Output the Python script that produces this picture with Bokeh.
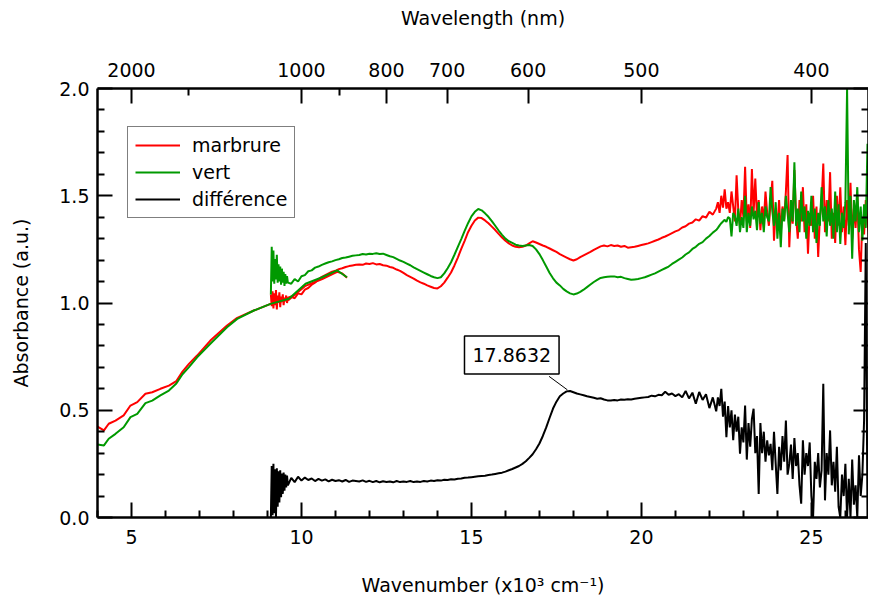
from bokeh.plotting import figure
from bokeh.models import (Range1d, LinearAxis, FixedTicker, CustomJSTickFormatter,
                          PrintfTickFormatter, Legend, LegendItem, Label)
from bokeh.embed import file_html
from bokeh.resources import INLINE

FONT = "DejaVu Sans"
RED = "#FF0000"
GREEN = "#009900"

# ---------------- data ----------------
# NIR segment (smooth), wavenumber in 10^3 cm-1
nir_x = [4.00, 4.19, 4.33, 4.53, 4.77, 4.97, 5.17, 5.41, 5.61, 5.85,
         6.10, 6.32, 6.50, 6.69, 6.93, 7.32, 7.81, 8.11, 8.60, 9.09,
         9.63, 10.12, 10.61, 11.05, 11.20, 11.34]
nir_red = [0.424, 0.406, 0.437, 0.452, 0.476, 0.522, 0.538, 0.577, 0.584, 0.600,
           0.615, 0.636, 0.680, 0.716, 0.755, 0.825, 0.895, 0.931, 0.965, 0.996,
           1.015, 1.080, 1.112, 1.145, 1.138, 1.118]
nir_green = [0.340, 0.336, 0.367, 0.390, 0.421, 0.468, 0.483, 0.533, 0.545, 0.569,
             0.592, 0.625, 0.668, 0.701, 0.747, 0.810, 0.887, 0.926, 0.965, 0.996,
             1.020, 1.090, 1.120, 1.152, 1.135, 1.120]

# visible segment
vis_x = [
    9.100, 9.125, 9.150, 9.175, 9.200, 9.225, 9.250, 9.275, 9.300, 9.325,
    9.350, 9.375, 9.400, 9.425, 9.450, 9.475, 9.500, 9.525, 9.550, 9.575,
    9.600,
    9.7, 9.8, 9.9, 10.0, 10.1, 10.2, 10.3, 10.4, 10.5, 10.6,
    10.7, 10.8, 10.9, 11.0, 11.1, 11.2, 11.3, 11.4, 11.5, 11.6,
    11.7, 11.8, 11.9, 12.0, 12.1, 12.2, 12.3, 12.4, 12.5, 12.6,
    12.7, 12.8, 12.9, 13.0, 13.1, 13.2, 13.3, 13.4, 13.5, 13.6,
    13.7, 13.8, 13.9, 14.0, 14.1, 14.2, 14.3, 14.4, 14.5, 14.6,
    14.7, 14.8, 14.9, 15.0, 15.1, 15.2, 15.3, 15.4, 15.5, 15.6,
    15.7, 15.8, 15.9, 16.0, 16.1, 16.2, 16.3, 16.4, 16.5, 16.6,
    16.7, 16.8, 16.9, 17.0, 17.1, 17.2, 17.3, 17.4, 17.5, 17.6,
    17.7, 17.8, 17.9, 18.0, 18.1, 18.2, 18.3, 18.4, 18.5, 18.6,
    18.7, 18.8, 18.9, 19.0, 19.1, 19.2, 19.3, 19.4, 19.5, 19.6,
    19.7, 19.8, 19.9, 20.0, 20.1, 20.2, 20.3, 20.4, 20.5, 20.6,
    20.7, 20.8, 20.9, 21.0, 21.1, 21.2, 21.3, 21.4, 21.5, 21.6,
    21.7, 21.8, 21.9, 22.0, 22.1, 22.2,
    22.25, 22.30, 22.35, 22.40, 22.45, 22.50, 22.55, 22.60, 22.65, 22.70,
    22.75, 22.80, 22.85, 22.90, 22.95, 23.00, 23.05, 23.10, 23.15, 23.20,
    23.25, 23.30, 23.35, 23.40, 23.45, 23.50, 23.55, 23.60, 23.65, 23.70,
    23.75, 23.80, 23.85, 23.90, 23.95, 24.00, 24.05, 24.10, 24.15, 24.20,
    24.25, 24.30, 24.35, 24.40, 24.45, 24.50, 24.55, 24.60, 24.65, 24.70,
    24.75, 24.80, 24.85, 24.90, 24.95, 25.00, 25.05, 25.10, 25.15, 25.20,
    25.25, 25.30, 25.35, 25.40, 25.45, 25.50, 25.55, 25.60, 25.65, 25.70,
    25.75, 25.80, 25.85, 25.90, 25.95, 26.00, 26.05, 26.10, 26.15, 26.20,
    26.25, 26.30, 26.35, 26.40, 26.45, 26.50, 26.55, 26.60, 26.65, 26.70,
    26.75, 26.80, 26.85, 26.88]

vis_red = [
    1.040, 0.985, 1.055, 0.975, 1.045, 0.990, 1.060, 0.970, 1.035, 1.000,
    1.050, 0.980, 1.030, 1.005, 1.040, 0.990, 1.025, 1.010, 1.035, 1.000,
    1.025,
    1.030, 1.022, 1.045, 1.040, 1.062, 1.070, 1.085, 1.095, 1.110, 1.122,
    1.130, 1.138, 1.146, 1.150, 1.158, 1.162, 1.168, 1.172, 1.175, 1.178,
    1.180, 1.178, 1.184, 1.182, 1.186, 1.180, 1.182, 1.176, 1.174, 1.168,
    1.164, 1.156, 1.150, 1.140, 1.130, 1.122, 1.114, 1.104, 1.096, 1.090,
    1.082, 1.076, 1.070, 1.068, 1.078, 1.095, 1.118, 1.142, 1.175, 1.212,
    1.252, 1.290, 1.330, 1.360, 1.385, 1.398, 1.396, 1.385, 1.372, 1.356,
    1.340, 1.322, 1.305, 1.290, 1.278, 1.268, 1.262, 1.260, 1.262, 1.268,
    1.278, 1.288, 1.282, 1.275, 1.268, 1.262, 1.254, 1.246, 1.238, 1.228,
    1.220, 1.212, 1.204, 1.198, 1.204, 1.214, 1.222, 1.230, 1.238, 1.248,
    1.256, 1.264, 1.268, 1.264, 1.270, 1.266, 1.268, 1.262, 1.266, 1.258,
    1.260, 1.262, 1.266, 1.270, 1.274, 1.278, 1.284, 1.290, 1.296, 1.304,
    1.310, 1.318, 1.326, 1.334, 1.340, 1.352, 1.358, 1.370, 1.375, 1.390,
    1.384, 1.405, 1.398, 1.425, 1.412, 1.440,
    1.470, 1.420, 1.500, 1.445, 1.530, 1.440, 1.470, 1.420, 1.520, 1.450,
    1.380, 1.595, 1.430, 1.360, 1.480, 1.400, 1.635, 1.380, 1.460, 1.350,
    1.625, 1.420, 1.580, 1.400, 1.480, 1.340, 1.450, 1.380, 1.520, 1.420,
    1.360, 1.470, 1.570, 1.290, 1.440, 1.350, 1.480, 1.320, 1.450, 1.390,
    1.520, 1.690, 1.260, 1.450, 1.370, 1.620, 1.400, 1.300, 1.480, 1.380,
    1.540, 1.330, 1.460, 1.230, 1.420, 1.360, 1.500, 1.300, 1.450, 1.215,
    1.400, 1.470, 1.650, 1.330, 1.480, 1.380, 1.610, 1.300, 1.420, 1.280,
    1.500, 1.360, 1.540, 1.330, 1.450, 1.270, 1.480, 1.360, 1.560, 1.300,
    1.440, 1.350, 1.500, 1.250, 1.145, 1.400, 1.320, 1.480, 1.380, 1.300,
    1.450, 1.550, 1.300, 1.270]

vis_green = [
    1.040, 1.262, 1.100, 1.245, 1.090, 1.205, 1.110, 1.225, 1.095, 1.180,
    1.100, 1.170, 1.085, 1.160, 1.095, 1.145, 1.080, 1.135, 1.090, 1.125,
    1.095,
    1.090, 1.112, 1.100, 1.125, 1.130, 1.148, 1.152, 1.165, 1.170, 1.178,
    1.184, 1.190, 1.194, 1.200, 1.204, 1.210, 1.212, 1.216, 1.220, 1.222,
    1.224, 1.228, 1.226, 1.230, 1.229, 1.232, 1.228, 1.230, 1.224, 1.218,
    1.214, 1.206, 1.198, 1.192, 1.184, 1.176, 1.166, 1.158, 1.150, 1.142,
    1.134, 1.126, 1.120, 1.116, 1.120, 1.138, 1.162, 1.190, 1.225, 1.262,
    1.298, 1.336, 1.372, 1.404, 1.425, 1.438, 1.432, 1.418, 1.402, 1.382,
    1.360, 1.338, 1.318, 1.300, 1.288, 1.280, 1.272, 1.268, 1.266, 1.268,
    1.270, 1.266, 1.250, 1.228, 1.200, 1.170, 1.140, 1.115, 1.095, 1.082,
    1.066, 1.054, 1.045, 1.040, 1.044, 1.052, 1.062, 1.074, 1.086, 1.098,
    1.108, 1.117, 1.120, 1.122, 1.124, 1.124, 1.120, 1.122, 1.116, 1.112,
    1.108, 1.110, 1.112, 1.116, 1.120, 1.126, 1.132, 1.138, 1.146, 1.154,
    1.162, 1.170, 1.182, 1.192, 1.202, 1.212, 1.226, 1.236, 1.252, 1.262,
    1.276, 1.284, 1.300, 1.312, 1.328, 1.340,
    1.350, 1.362, 1.372, 1.380, 1.388, 1.378, 1.400, 1.395, 1.310, 1.420,
    1.405, 1.360, 1.440, 1.330, 1.400, 1.350, 1.500, 1.330, 1.420, 1.360,
    1.450, 1.390, 1.430, 1.340, 1.470, 1.370, 1.420, 1.330, 1.450, 1.400,
    1.380, 1.540, 1.430, 1.360, 1.470, 1.300, 1.420, 1.260, 1.440, 1.380,
    1.500, 1.420, 1.330, 1.480, 1.380, 1.656, 1.360, 1.440, 1.330, 1.520,
    1.380, 1.450, 1.300, 1.430, 1.360, 1.500, 1.330, 1.440, 1.280, 1.420,
    1.360, 1.540, 1.380, 1.450, 1.310, 1.480, 1.360, 1.440, 1.300, 1.520,
    1.330, 1.460, 1.275, 1.420, 1.350, 1.470, 2.000, 1.320, 1.500, 1.206,
    1.480, 1.380, 1.540, 1.330, 1.450, 1.290, 1.460, 1.350, 1.742, 1.320,
    1.480, 1.400, 1.560, 1.380]

vis_diff = [
    0.000, 0.240, 0.010, 0.250, 0.020, 0.225, 0.000, 0.230, 0.050, 0.215,
    0.070, 0.220, 0.095, 0.205, 0.110, 0.210, 0.125, 0.200, 0.140, 0.195,
    0.150,
    0.185, 0.165, 0.190, 0.172, 0.186, 0.175, 0.182, 0.170, 0.180, 0.172,
    0.178, 0.168, 0.176, 0.170, 0.174, 0.168, 0.175, 0.166, 0.172, 0.170,
    0.168, 0.173, 0.166, 0.171, 0.165, 0.170, 0.164, 0.169, 0.166, 0.168,
    0.164, 0.170, 0.165, 0.168, 0.166, 0.170, 0.165, 0.168, 0.166, 0.170,
    0.168, 0.172, 0.170, 0.174, 0.172, 0.176, 0.175, 0.178, 0.177, 0.181,
    0.182, 0.185, 0.186, 0.188, 0.190, 0.192, 0.194, 0.195, 0.198, 0.200,
    0.203, 0.206, 0.209, 0.214, 0.220, 0.226, 0.233, 0.240, 0.250, 0.262,
    0.278, 0.295, 0.318, 0.345, 0.380, 0.420, 0.465, 0.508, 0.540, 0.565,
    0.578, 0.588, 0.590, 0.584, 0.578, 0.574, 0.570, 0.565, 0.562, 0.558,
    0.554, 0.556, 0.550, 0.546, 0.545, 0.548, 0.546, 0.550, 0.549, 0.551,
    0.550, 0.554, 0.556, 0.558, 0.560, 0.562, 0.568, 0.565, 0.572, 0.570,
    0.586, 0.572, 0.578, 0.566, 0.575, 0.560, 0.590, 0.555, 0.582, 0.530,
    0.585, 0.548, 0.575, 0.510, 0.560, 0.495,
    0.560, 0.520, 0.600, 0.470, 0.540, 0.374, 0.520, 0.420, 0.500, 0.360,
    0.480, 0.400, 0.470, 0.297, 0.420, 0.350, 0.522, 0.270, 0.440, 0.330,
    0.460, 0.507, 0.300, 0.380, 0.110, 0.440, 0.300, 0.400, 0.260, 0.360,
    0.290, 0.343, 0.220, 0.400, 0.250, 0.110, 0.330, 0.220, 0.380, 0.260,
    0.452, 0.200, 0.250, 0.340, 0.180, 0.370, 0.240, 0.300, 0.150, 0.064,
    0.360, 0.200, 0.300, 0.240, 0.350, 0.100, 0.000, 0.260, 0.180, 0.300,
    0.140, 0.220, 0.623, 0.080, 0.300, 0.200, 0.406, 0.150, 0.260, 0.120,
    0.330, 0.050, 0.000, 0.200, 0.100, 0.250, 0.000, 0.180, 0.000, 0.270,
    0.060, 0.150, 0.000, 0.290, 0.100, 0.200, 0.452, 1.280, 0.000, 0.150,
    0.060, 0.200, 0.000, 0.100]

assert len(vis_x) == len(vis_red) == len(vis_green) == len(vis_diff), (
    len(vis_x), len(vis_red), len(vis_green), len(vis_diff))

series_labels = ["marbrure", "vert", "différence"]

# annotation (peak position of the difference spectrum)
ann_x = 17.8632
ann_y = 0.590
ann_text = "17.8632"

# ticks
x_major = [5, 10, 15, 20, 25]
x_minor = [4, 6, 7, 8, 9, 11, 12, 13, 14, 16, 17, 18, 19, 21, 22, 23, 24, 26]
y_major = [0.0, 0.5, 1.0, 1.5, 2.0]
y_minor = [0.1, 0.2, 0.3, 0.4, 0.6, 0.7, 0.8, 0.9, 1.1, 1.2, 1.3, 1.4,
           1.6, 1.7, 1.8, 1.9]
wl_major = [2000, 1000, 800, 700, 600, 500, 400]   # nm
wl_minor = [1500, 900]                              # nm

# ---------------- figure ----------------
p = figure(width=868, height=598,
           x_range=Range1d(4, 26.68), y_range=Range1d(0, 2.0),
           output_backend="svg", toolbar_location=None,
           min_border_left=97, min_border_right=0,
           min_border_top=88, min_border_bottom=81)
p.grid.visible = False
p.outline_line_color = None
p.background_fill_color = "white"
p.border_fill_color = "white"


def style_axis(ax):
    ax.axis_line_width = 2.5
    ax.axis_line_color = "black"
    ax.major_tick_in = 15
    ax.major_tick_out = 0
    ax.minor_tick_in = 7
    ax.minor_tick_out = 0
    ax.major_tick_line_width = 2
    ax.minor_tick_line_width = 2
    ax.major_tick_line_color = "black"
    ax.minor_tick_line_color = "black"
    ax.major_label_text_font = FONT
    ax.major_label_text_font_size = "19px"
    ax.major_label_text_color = "black"
    ax.axis_label_text_font = FONT
    ax.axis_label_text_font_size = "19px"
    ax.axis_label_text_font_style = "normal"
    ax.axis_label_text_color = "black"


xb = p.xaxis[0]
xb.ticker = FixedTicker(ticks=x_major, minor_ticks=x_minor)
xb.axis_label = "Wavenumber (x10³ cm⁻¹)"
style_axis(xb)
xb.major_label_standoff = 12
xb.axis_label_standoff = 27

yl = p.yaxis[0]
yl.ticker = FixedTicker(ticks=y_major, minor_ticks=y_minor)
yl.formatter = PrintfTickFormatter(format="%.1f")
yl.axis_label = "Absorbance (a.u.)"
style_axis(yl)
yl.major_label_standoff = 8
yl.axis_label_standoff = 24

top = LinearAxis(
    ticker=FixedTicker(ticks=[10000.0 / w for w in wl_major],
                       minor_ticks=[10000.0 / w for w in wl_minor]),
    formatter=CustomJSTickFormatter(code="return (10000/tick).toFixed(0)"),
    axis_label="Wavelength (nm)")
style_axis(top)
top.major_label_standoff = 12
top.axis_label_standoff = 31
p.add_layout(top, "above")

right = LinearAxis(ticker=FixedTicker(ticks=y_major, minor_ticks=y_minor),
                   formatter=CustomJSTickFormatter(code="return ''"))
style_axis(right)
right.major_label_standoff = 0
right.major_label_text_font_size = "1px"
p.add_layout(right, "right")

# ---------------- lines ----------------
lw = 2
r_red1 = p.line(nir_x, nir_red, line_color=RED, line_width=lw)
r_red2 = p.line(vis_x, vis_red, line_color=RED, line_width=lw)
r_grn1 = p.line(nir_x, nir_green, line_color=GREEN, line_width=lw)
r_grn2 = p.line(vis_x, vis_green, line_color=GREEN, line_width=lw)
r_diff = p.line(vis_x, vis_diff, line_color="black", line_width=lw)

# annotation with leader line
p.segment(x0=[ann_x - 0.04], y0=[ann_y + 0.005], x1=[ann_x - 0.58], y1=[ann_y + 0.068],
          line_color="black", line_width=1)
p.add_layout(Label(x=ann_x, y=ann_y, x_offset=-57, y_offset=36, text=ann_text,
                   text_align="center", text_baseline="middle",
                   text_font=FONT, text_font_size="19px", text_color="black",
                   border_line_color="black", border_line_width=1.5,
                   background_fill_color="white", padding=(8, 12)))

legend = Legend(items=[LegendItem(label=series_labels[0], renderers=[r_red2]),
                       LegendItem(label=series_labels[1], renderers=[r_grn2]),
                       LegendItem(label=series_labels[2], renderers=[r_diff])],
                location=(30, 299),
                label_text_font=FONT, label_text_font_size="19px",
                label_text_color="black",
                glyph_width=45, glyph_height=22, label_height=22,
                label_standoff=12, spacing=5, padding=7,
                border_line_color="black", border_line_width=1.5,
                background_fill_color="white", background_fill_alpha=1.0)
p.add_layout(legend)

open("out.html", "w").write(file_html(p, INLINE))
